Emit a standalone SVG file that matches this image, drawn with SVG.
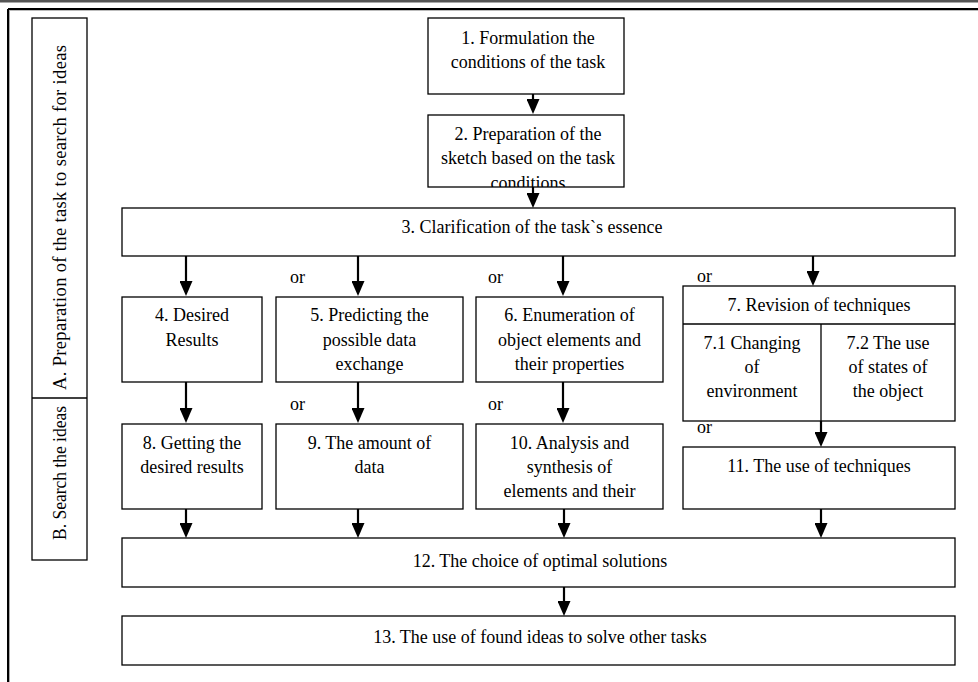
<svg xmlns="http://www.w3.org/2000/svg" width="978" height="682" viewBox="0 0 978 682">
<style>
.box{fill:#fff;stroke:#000;stroke-width:1.3}
.t{font-family:"Liberation Serif","Times New Roman",serif;font-size:18px;fill:#000;text-anchor:middle}
.or{font-family:"Liberation Serif","Times New Roman",serif;font-size:18px;fill:#000}
.side{font-family:"Liberation Serif","Times New Roman",serif;font-size:18.5px;fill:#000}
.arr{stroke:#000;stroke-width:2.2;fill:none;marker-end:url(#ah)}
</style>
<defs>
<marker id="ah" viewBox="0 0 15 13" refX="3" refY="6.5" markerWidth="15" markerHeight="13" markerUnits="userSpaceOnUse" orient="auto">
<path d="M0,0 L15,6.5 L0,13 z" fill="#000"/>
</marker>
<clipPath id="c2"><rect x="428" y="115" width="196" height="72"/></clipPath>
</defs>
<rect x="0" y="0" width="978" height="682" fill="#fff"/>
<g id="frame">
<rect x="0" y="0" width="978" height="2.5" fill="#555"/>
<line x1="8" y1="9" x2="978" y2="9" stroke="#000" stroke-width="2"/>
<line x1="9" y1="10.5" x2="978" y2="10.5" stroke="#bbb" stroke-width="1"/>
<line x1="8" y1="9" x2="8" y2="682" stroke="#000" stroke-width="2"/>
<line x1="9.5" y1="10" x2="9.5" y2="682" stroke="#aaa" stroke-width="1"/>
</g>
<g id="sidebar">
<rect class="box" x="32" y="18" width="55" height="542"/>
<line x1="32" y1="398" x2="87" y2="398" stroke="#000" stroke-width="1.3"/>
<text class="side" transform="translate(66,390) rotate(-90)" x="0" y="0" textLength="345" lengthAdjust="spacing">A. Preparation of the task to search for ideas</text>
<text class="side" transform="translate(66,540) rotate(-90)" x="0" y="0" textLength="134" lengthAdjust="spacingAndGlyphs">B. Search the ideas</text>
</g>
<g id="n1"><rect class="box" x="428" y="18" width="196" height="76"/>
<text class="t" x="528" y="44">1. Formulation the</text><text class="t" x="528" y="68">conditions of the task</text></g>
<g id="n2"><rect class="box" x="428" y="115" width="196" height="72"/>
<g clip-path="url(#c2)"><text class="t" x="528" y="140">2. Preparation of the</text><text class="t" x="528" y="164">sketch based on the task</text><text class="t" x="528" y="189">conditions</text></g></g>
<g id="n3"><rect class="box" x="122" y="208" width="833" height="48"/>
<text class="t" x="532" y="233">3. Clarification of the task`s essence</text></g>
<g id="n4"><rect class="box" x="122" y="297" width="140" height="85"/>
<text class="t" x="192" y="321">4. Desired</text><text class="t" x="192" y="346">Results</text></g>
<g id="n5"><rect class="box" x="276" y="297" width="187" height="85"/>
<text class="t" x="369.5" y="321">5. Predicting the</text><text class="t" x="369.5" y="346">possible data</text><text class="t" x="369.5" y="370">exchange</text></g>
<g id="n6"><rect class="box" x="476" y="297" width="187" height="85"/>
<text class="t" x="569.5" y="321">6. Enumeration of</text><text class="t" x="569.5" y="346">object elements and</text><text class="t" x="569.5" y="370">their properties</text></g>
<g id="n7"><rect class="box" x="683" y="286" width="272" height="135"/>
<line x1="683" y1="324" x2="955" y2="324" stroke="#000" stroke-width="1.3"/>
<line x1="821" y1="324" x2="821" y2="421" stroke="#000" stroke-width="1.3"/>
<text class="t" x="819" y="311">7. Revision of techniques</text>
<text class="t" x="752" y="349">7.1 Changing</text><text class="t" x="752" y="373">of</text><text class="t" x="752" y="397">environment</text>
<text class="t" x="888" y="349">7.2 The use</text><text class="t" x="888" y="373">of states of</text><text class="t" x="888" y="397">the object</text></g>
<g id="n8"><rect class="box" x="122" y="424" width="140" height="85"/>
<text class="t" x="192" y="449">8. Getting the</text><text class="t" x="192" y="473">desired results</text></g>
<g id="n9"><rect class="box" x="276" y="424" width="187" height="85"/>
<text class="t" x="369.5" y="449">9. The amount of</text><text class="t" x="369.5" y="473">data</text></g>
<g id="n10"><rect class="box" x="476" y="424" width="187" height="85"/>
<text class="t" x="569.5" y="449">10. Analysis and</text><text class="t" x="569.5" y="473">synthesis of</text><text class="t" x="569.5" y="497">elements and their</text></g>
<g id="n11"><rect class="box" x="683" y="447" width="272" height="62"/>
<text class="t" x="819" y="472">11. The use of techniques</text></g>
<g id="n12"><rect class="box" x="122" y="538" width="833" height="49"/>
<text class="t" x="540" y="567">12. The choice of optimal solutions</text></g>
<g id="n13"><rect class="box" x="122" y="616" width="833" height="49"/>
<text class="t" x="540" y="643">13. The use of found ideas to solve other tasks</text></g>
<g id="labels">
<text class="or" x="290" y="283">or</text>
<text class="or" x="488" y="283">or</text>
<text class="or" x="697" y="282">or</text>
<text class="or" x="290" y="410">or</text>
<text class="or" x="488" y="410">or</text>
<text class="or" x="697" y="433">or</text>
</g>
<g id="connectors">
<path class="arr" d="M533,94 V102"/>
<path class="arr" d="M533,187 V196"/>
<path class="arr" d="M186,256 V284"/>
<path class="arr" d="M358,256 V284"/>
<path class="arr" d="M563,256 V284"/>
<path class="arr" d="M813,256 V274"/>
<path class="arr" d="M186,382 V411"/>
<path class="arr" d="M358,382 V411"/>
<path class="arr" d="M563,382 V411"/>
<path class="arr" d="M821,421 V435"/>
<path class="arr" d="M186,509 V526"/>
<path class="arr" d="M358,509 V526"/>
<path class="arr" d="M564,509 V526"/>
<path class="arr" d="M821,509 V526"/>
<path class="arr" d="M564,587 V604"/>
</g>
</svg>
